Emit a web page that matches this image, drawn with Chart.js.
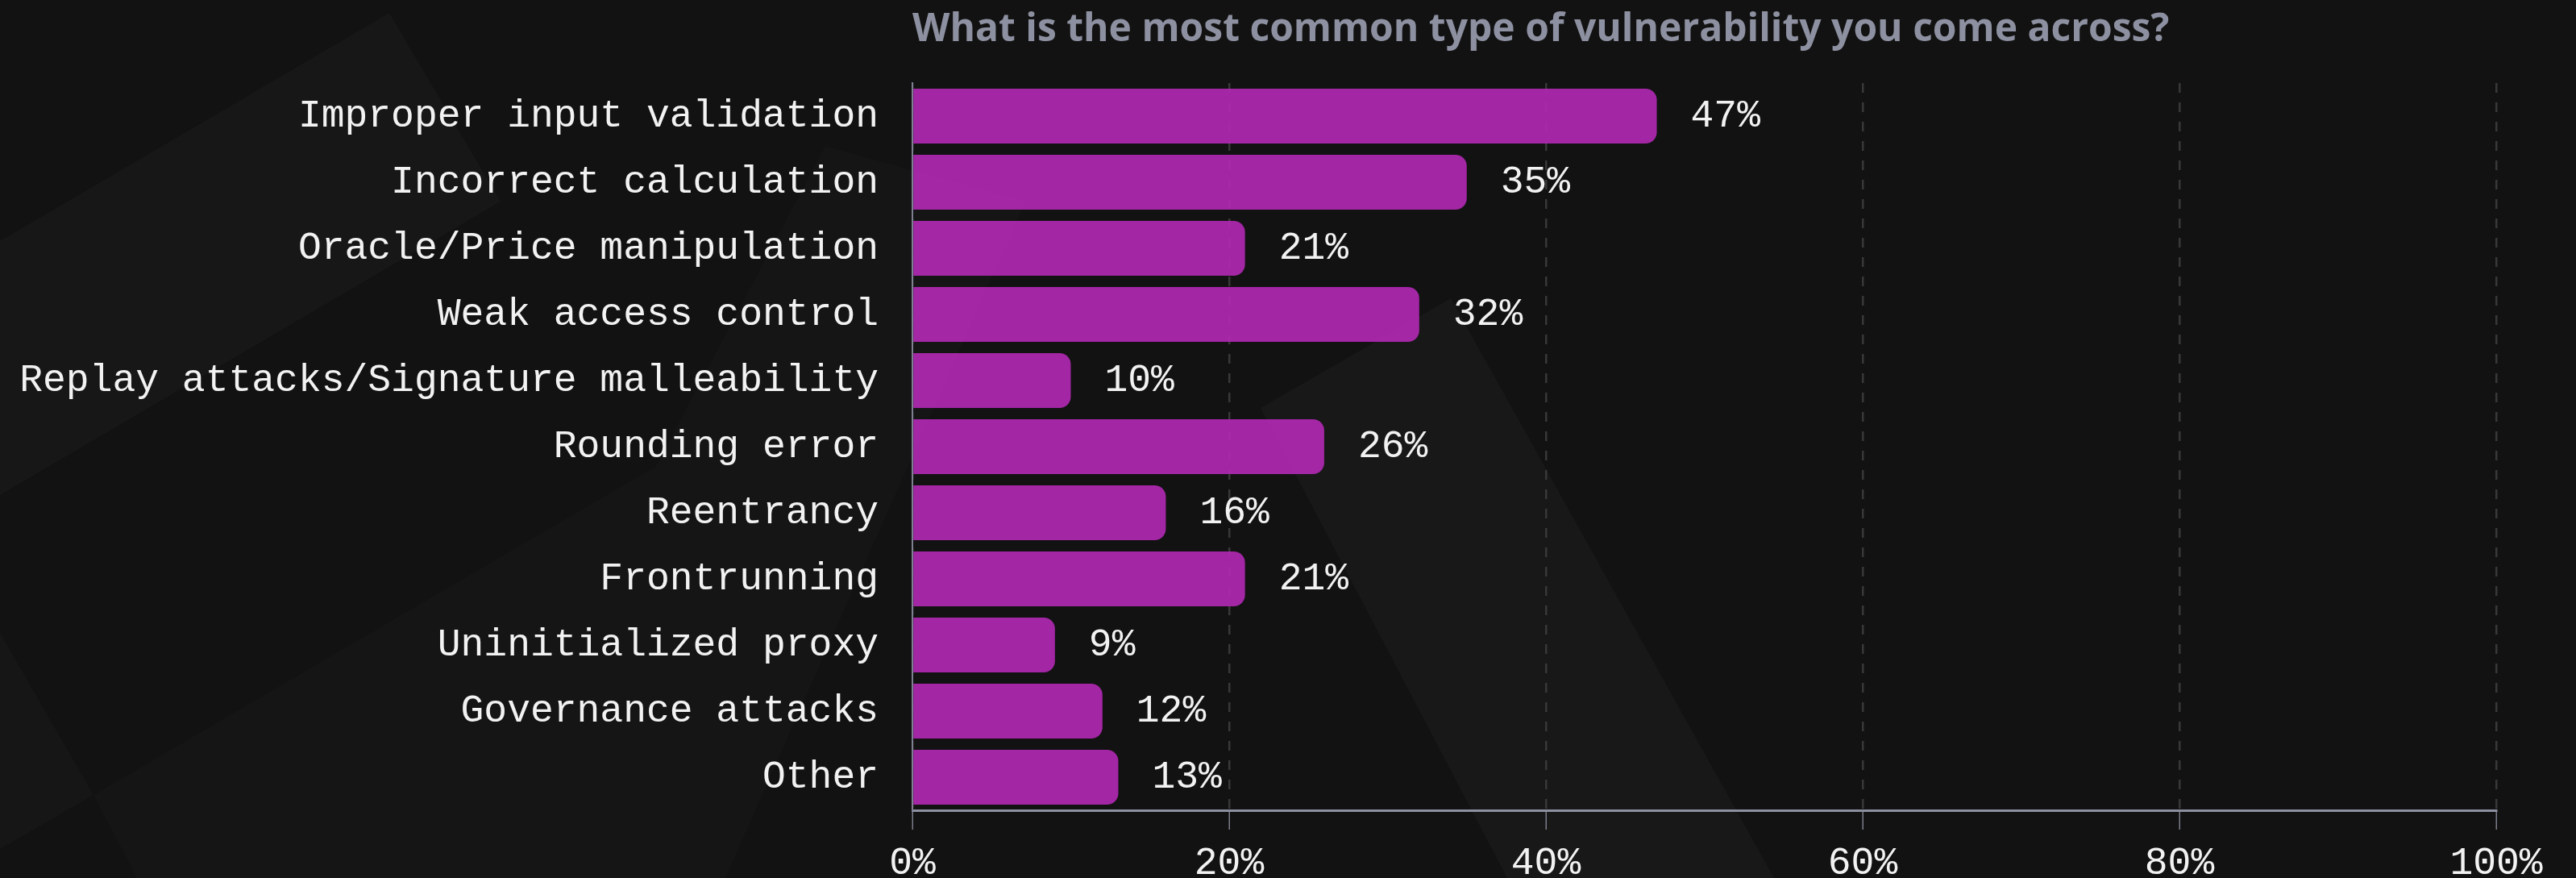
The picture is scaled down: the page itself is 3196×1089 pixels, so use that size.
<!DOCTYPE html>
<html>
<head>
<meta charset="utf-8">
<title>Vulnerability types</title>
<script src="https://cdn.jsdelivr.net/npm/chart.js@4/dist/chart.umd.min.js"></script>
<style>
  html, body { margin: 0; padding: 0; background: #121212; }
  #wrap { position: relative; width: 3196px; height: 1089px; }
</style>
</head>
<body>
<div id="wrap"><canvas id="chart"></canvas></div>
<script>
const categories = [
  "Improper input validation",
  "Incorrect calculation",
  "Oracle/Price manipulation",
  "Weak access control",
  "Replay attacks/Signature malleability",
  "Rounding error",
  "Reentrancy",
  "Frontrunning",
  "Uninitialized proxy",
  "Governance attacks",
  "Other"
];
const shares = [47, 35, 21, 32, 10, 26, 16, 21, 9, 12, 13];
const tickValues = [0, 20, 40, 60, 80, 100];
const titleText = "What is the most common type of vulnerability you come across?";

const MONO = "'Liberation Mono', 'DejaVu Sans Mono', monospace";

// faint angled panels behind everything
const backdrop = {
  id: "backdrop",
  beforeDraw(chart) {
    const ctx = chart.ctx;
    ctx.save();
    ctx.fillStyle = "#121212";
    ctx.fillRect(0, 0, chart.width, chart.height);
    const panels = [
      { c: "#171717", p: [[483, 16], [621, 250], [0, 614], [0, 299]] },
      { c: "#161616", p: [[0, 785], [116, 986], [0, 1053]] },
      { c: "#151515", p: [[170, 1089], [116, 986], [814, 578], [1024, 181], [1272, 250], [900, 1089]] },
      { c: "#181818", p: [[1564, 506], [1800, 370], [2201, 1089], [1870, 1089]] }
    ];
    panels.forEach(s => {
      ctx.fillStyle = s.c;
      ctx.beginPath();
      s.p.forEach(([x, y], i) => i ? ctx.lineTo(x, y) : ctx.moveTo(x, y));
      ctx.closePath();
      ctx.fill();
    });
    ctx.restore();
  }
};

// percentage text to the right of each bar
const valueLabels = {
  id: "valueLabels",
  afterDatasetsDraw(chart) {
    const ctx = chart.ctx;
    const meta = chart.getDatasetMeta(0);
    ctx.save();
    ctx.font = "48px " + MONO;
    ctx.fillStyle = "#f2f2f2";
    ctx.textAlign = "left";
    ctx.textBaseline = "middle";
    meta.data.forEach((bar, i) => {
      ctx.fillText(shares[i] + "%", bar.x + 42, bar.y);
    });
    ctx.restore();
  }
};

new Chart(document.getElementById("chart"), {
  type: "bar",
  data: {
    labels: categories,
    datasets: [{
      data: shares,
      backgroundColor: "rgba(172, 40, 174, 0.95)",
      borderWidth: 0,
      borderRadius: 14,
      barPercentage: 0.83,
      categoryPercentage: 1
    }]
  },
  options: {
    indexAxis: "y",
    responsive: true,
    maintainAspectRatio: false,
    animation: false,
    layout: { padding: { left: 0, right: 99, top: 0, bottom: 0 } },
    plugins: {
      legend: { display: false },
      tooltip: { enabled: false },
      title: {
        display: true,
        text: titleText,
        align: "start",
        fullSize: false,
        color: "#8d90a0",
        font: { family: "'Open Sans', 'Noto Sans', sans-serif", size: 48, weight: "bold", lineHeight: 1.2 },
        padding: { top: 9, bottom: 36.4 }
      }
    },
    scales: {
      x: {
        type: "linear",
        min: 0,
        max: 100,
        afterBuildTicks(scale) {
          scale.ticks = tickValues.map(v => ({ value: v }));
        },
        afterFit(scale) { scale.height = 84; },
        ticks: {
          color: "#f2f2f2",
          font: { family: MONO, size: 48 },
          padding: 13,
          maxRotation: 0,
          callback: v => v + "%"
        },
        grid: {
          color: "#383838",
          lineWidth: 2.5,
          drawTicks: true,
          tickLength: 24,
          tickColor: "#7a7d8a",
          tickWidth: 1.5
        },
        border: { display: true, color: "#8d90a0", width: 3, dash: [12, 12] }
      },
      y: {
        type: "category",
        afterFit(scale) { scale.width = 1132; },
        ticks: {
          color: "#f2f2f2",
          font: { family: MONO, size: 48 },
          padding: 42
        },
        grid: { display: false, drawTicks: false },
        border: { display: true, color: "#7d8090", width: 2 }
      }
    }
  },
  plugins: [backdrop, valueLabels]
});
</script>
</body>
</html>
